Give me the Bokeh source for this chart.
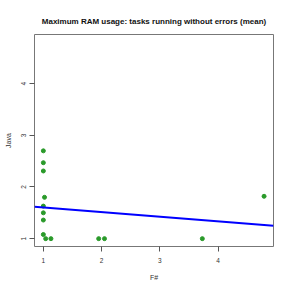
import numpy as np
from bokeh.plotting import figure
from bokeh.models import FixedTicker, Range1d
from bokeh.embed import file_html
from bokeh.resources import INLINE

title = "Maximum RAM usage: tasks running without errors (mean)"
x_label = "F#"
y_label = "Java"
ticks = [1, 2, 3, 4]

fsharp = [1.0, 1.0, 1.0, 1.02, 1.0, 1.0, 1.0, 1.0, 1.04, 1.13, 1.95, 2.05, 3.73, 4.79]
java = [2.70, 2.47, 2.31, 1.80, 1.63, 1.50, 1.36, 1.08, 1.0, 1.0, 1.0, 1.0, 1.0, 1.82]

lo, hi = 0.848, 4.952

p = figure(width=283, height=283, output_backend="svg", toolbar_location=None,
           x_range=Range1d(lo, hi), y_range=Range1d(lo, hi),
           min_border_left=34, min_border_right=10, min_border_top=34, min_border_bottom=35)
p.background_fill_color = "white"
p.border_fill_color = "white"
p.outline_line_color = "#777777"
p.outline_line_width = 1
p.grid.visible = False

p.title.text = title
p.title.text_font = "Liberation Sans"
p.title.text_font_size = "8px"
p.title.text_font_style = "bold"
p.title.align = "center"
p.title.text_color = "#111111"
p.title.standoff = 18

for ax in (p.xaxis[0], p.yaxis[0]):
    ax.ticker = FixedTicker(ticks=ticks)
    ax.axis_line_color = None
    ax.major_tick_line_color = "#555555"
    ax.major_tick_out = 5
    ax.major_tick_in = 0
    ax.minor_tick_line_color = None
    ax.major_label_text_font = "Liberation Sans"
    ax.major_label_text_font_size = "6.5px"
    ax.major_label_text_color = "#333333"
    ax.axis_label_text_font = "Liberation Sans"
    ax.axis_label_text_font_size = "7px"
    ax.axis_label_text_font_style = "normal"
    ax.axis_label_text_color = "#333333"

p.xaxis.axis_label = x_label
p.yaxis.axis_label = y_label
p.xaxis.major_label_standoff = 6
p.xaxis.axis_label_standoff = 8
p.yaxis.major_label_standoff = 3
p.yaxis.axis_label_standoff = 7
p.yaxis.major_label_orientation = "vertical"

p.scatter(fsharp, java, size=4, color="#2a9a2a", line_color="#2a9a2a")

slope, intercept = np.polyfit(fsharp, java, 1)
xs = np.array([lo, hi])
p.line(xs, intercept + slope * xs, line_color="#0000ff", line_width=2)

open("out.html", "w").write(file_html(p, INLINE))
